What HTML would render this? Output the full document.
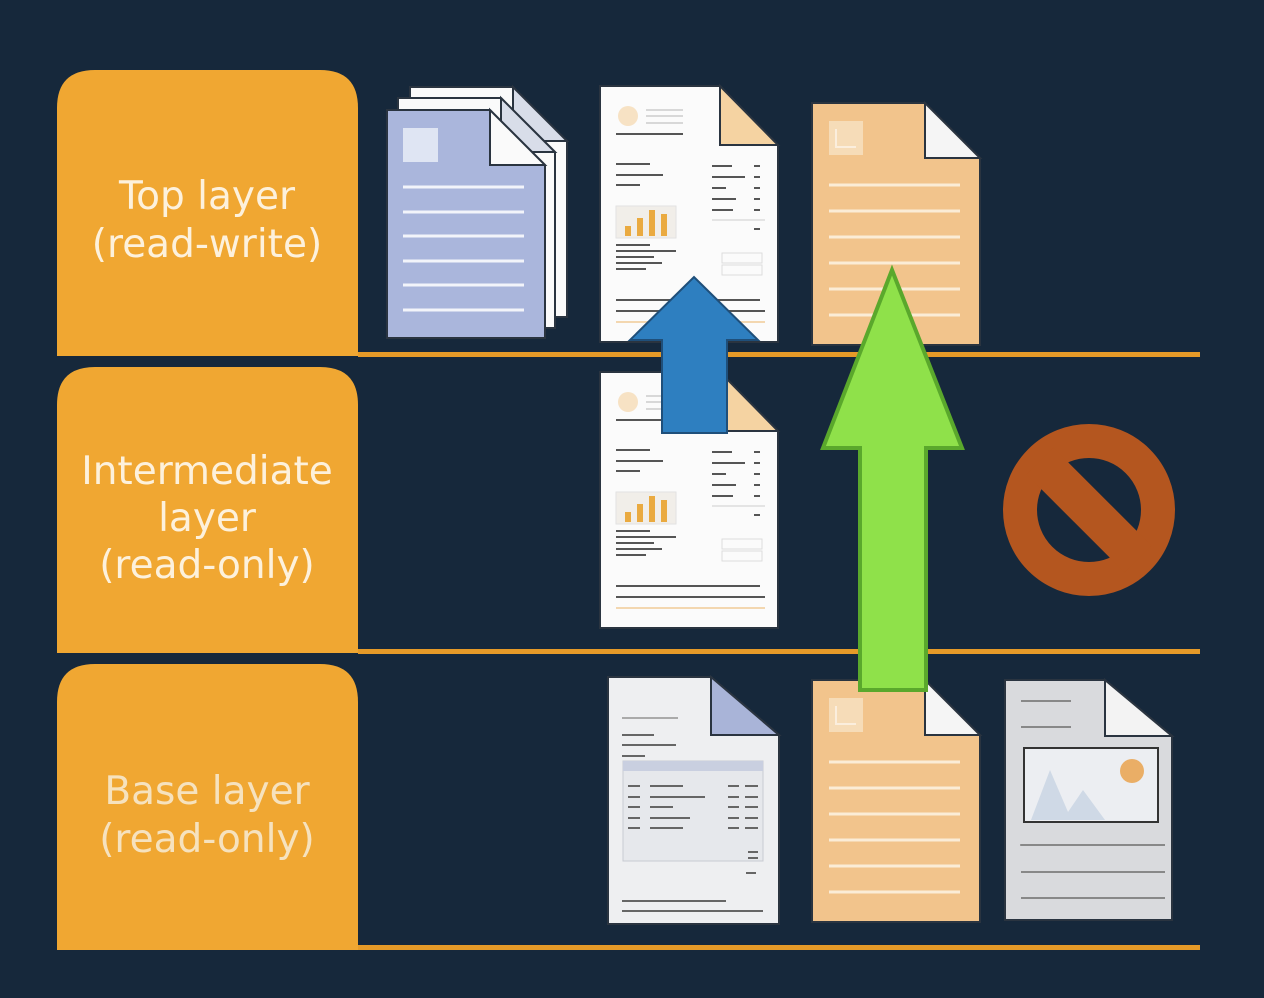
<!DOCTYPE html>
<html><head><meta charset="utf-8"><style>
html,body{margin:0;padding:0;background:#16283b;}
svg{display:block}
text{font-family:"DejaVu Sans","Liberation Sans",sans-serif;font-size:39px;fill:#fdf1dc;text-anchor:middle}
</style></head><body>
<svg width="1264" height="998" viewBox="0 0 1264 998" xmlns="http://www.w3.org/2000/svg">
<defs>
<g id="report">
  <path d="M0 0 H120 L178 59 V256 H0 Z" fill="#fbfbfb" stroke="#2a3440" stroke-width="2"/>
  <path d="M120 0 V59 H178 Z" fill="#f5d3a2" stroke="#2a3440" stroke-width="2"/>
  <circle cx="28" cy="30" r="10" fill="#f7e2c4"/>
  <g stroke="#d8d8d8" stroke-width="2"><line x1="46" y1="24" x2="83" y2="24"/><line x1="46" y1="30" x2="83" y2="30"/><line x1="46" y1="37" x2="83" y2="37"/></g>
  <g stroke="#555" stroke-width="2">
    <line x1="16" y1="48" x2="83" y2="48"/>
    <line x1="16" y1="78" x2="50" y2="78"/><line x1="16" y1="89" x2="63" y2="89"/><line x1="16" y1="99" x2="40" y2="99"/>
    <line x1="112" y1="80" x2="132" y2="80"/><line x1="112" y1="91" x2="145" y2="91"/><line x1="112" y1="102" x2="126" y2="102"/><line x1="112" y1="113" x2="136" y2="113"/><line x1="112" y1="124" x2="133" y2="124"/>
    <line x1="154" y1="80" x2="160" y2="80"/><line x1="154" y1="91" x2="160" y2="91"/><line x1="154" y1="102" x2="160" y2="102"/><line x1="154" y1="113" x2="160" y2="113"/><line x1="154" y1="124" x2="160" y2="124"/><line x1="154" y1="143" x2="160" y2="143"/>
    <line x1="16" y1="159" x2="50" y2="159"/><line x1="16" y1="165" x2="76" y2="165"/><line x1="16" y1="171" x2="54" y2="171"/><line x1="16" y1="177" x2="62" y2="177"/><line x1="16" y1="183" x2="46" y2="183"/>
    <line x1="16" y1="214" x2="160" y2="214"/><line x1="16" y1="225" x2="165" y2="225"/>
  </g>
  <line x1="16" y1="236" x2="165" y2="236" stroke="#f3d7b0" stroke-width="2"/>
  <line x1="112" y1="134" x2="165" y2="134" stroke="#ddd" stroke-width="1.5"/>
  <rect x="16" y="120" width="60" height="32" fill="#f1eee9" stroke="#e2e2e2"/>
  <g fill="#eaaa40"><rect x="25" y="140" width="6" height="10"/><rect x="37" y="132" width="6" height="18"/><rect x="49" y="124" width="6" height="26"/><rect x="61" y="128" width="6" height="22"/></g>
  <rect x="122" y="167" width="40" height="10" fill="none" stroke="#ddd"/><rect x="122" y="179" width="40" height="10" fill="none" stroke="#ddd"/>
</g>
<g id="orangedoc">
  <path d="M0 0 H113 L168 55 V242 H0 Z" fill="#f2c48c" stroke="#2a3440" stroke-width="2"/>
  <path d="M113 0 V55 H168 Z" fill="#f5f5f5" stroke="#2a3440" stroke-width="2"/>
  <rect x="17" y="18" width="34" height="34" fill="#f6dcb8"/>
  <path d="M24 26 V44 H44" stroke="#fbeedd" stroke-width="2" fill="none"/>
  <g stroke="#fbecd6" stroke-width="3"><line x1="17" y1="82" x2="148" y2="82"/><line x1="17" y1="108" x2="148" y2="108"/><line x1="17" y1="134" x2="148" y2="134"/><line x1="17" y1="160" x2="148" y2="160"/><line x1="17" y1="186" x2="148" y2="186"/><line x1="17" y1="212" x2="148" y2="212"/></g>
</g>
</defs>

<!-- tabs -->
<g fill="#f0a732">
  <path d="M57 356 V108 Q57 70 95 70 H320 Q358 70 358 108 V356 Z"/>
  <path d="M57 653 V405 Q57 367 95 367 H320 Q358 367 358 405 V653 Z"/>
  <path d="M57 950 V702 Q57 664 95 664 H320 Q358 664 358 702 V950 Z"/>
</g>
<g fill="#e59a28">
  <rect x="358" y="352" width="842" height="5"/>
  <rect x="358" y="649" width="842" height="5"/>
  <rect x="358" y="945" width="842" height="5"/>
</g>
<text x="207" y="209">Top layer</text>
<text x="207" y="257">(read-write)</text>
<text x="207" y="484">Intermediate</text>
<text x="207" y="531">layer</text>
<text x="207" y="578">(read-only)</text>
<text x="207" y="804" style="fill:#f6e2be">Base layer</text>
<text x="207" y="852" style="fill:#f6e2be">(read-only)</text>

<!-- blue stack -->
<g stroke="#2a3440" stroke-width="2">
  <path d="M410 87 H513 L567 141 V317 H410 Z" fill="#fafafa"/>
  <path d="M513 87 V141 H567 Z" fill="#d8dde9"/>
  <path d="M398 98 H501 L555 152 V328 H398 Z" fill="#fafafa"/>
  <path d="M501 98 V152 H555 Z" fill="#d8dde9"/>
  <path d="M387 110 H490 L545 165 V338 H387 Z" fill="#aab6dc"/>
  <path d="M490 110 V165 H545 Z" fill="#fafafa"/>
</g>
<rect x="403" y="128" width="35" height="34" fill="#dfe5f3"/>
<g stroke="#f2f4fa" stroke-width="3"><line x1="403" y1="187" x2="524" y2="187"/><line x1="403" y1="212" x2="524" y2="212"/><line x1="403" y1="236" x2="524" y2="236"/><line x1="403" y1="261" x2="524" y2="261"/><line x1="403" y1="285" x2="524" y2="285"/><line x1="403" y1="310" x2="524" y2="310"/></g>

<use href="#report" x="600" y="86"/>
<use href="#orangedoc" x="812" y="103"/>
<use href="#report" x="600" y="372"/>

<!-- base left doc -->
<g transform="translate(608,677)">
  <path d="M0 0 H103 L171 58 V247 H0 Z" fill="#eeeff1" stroke="#2a3440" stroke-width="2"/>
  <path d="M103 0 V58 H171 Z" fill="#a9b4d8" stroke="#2a3440" stroke-width="2"/>
  <g stroke="#666" stroke-width="2"><line x1="14" y1="41" x2="70" y2="41" stroke="#aaa"/><line x1="14" y1="58" x2="46" y2="58"/><line x1="14" y1="68" x2="68" y2="68"/><line x1="14" y1="79" x2="37" y2="79"/>
  <line x1="14" y1="224" x2="118" y2="224"/><line x1="14" y1="234" x2="155" y2="234"/></g>
  <rect x="15" y="84" width="140" height="100" fill="#e6e8ec" stroke="#c8cbd2"/>
  <rect x="15" y="84" width="140" height="10" fill="#c9cfe0"/>
  <g stroke="#666" stroke-width="2"><line x1="20" y1="109" x2="32" y2="109"/><line x1="20" y1="120" x2="32" y2="120"/><line x1="20" y1="130" x2="32" y2="130"/><line x1="20" y1="141" x2="32" y2="141"/><line x1="20" y1="151" x2="32" y2="151"/>
  <line x1="42" y1="109" x2="75" y2="109"/><line x1="42" y1="120" x2="97" y2="120"/><line x1="42" y1="130" x2="65" y2="130"/><line x1="42" y1="141" x2="82" y2="141"/><line x1="42" y1="151" x2="75" y2="151"/>
  <line x1="120" y1="109" x2="131" y2="109"/><line x1="120" y1="120" x2="131" y2="120"/><line x1="120" y1="130" x2="131" y2="130"/><line x1="120" y1="141" x2="131" y2="141"/><line x1="120" y1="151" x2="131" y2="151"/>
  <line x1="137" y1="109" x2="150" y2="109"/><line x1="137" y1="120" x2="150" y2="120"/><line x1="137" y1="130" x2="150" y2="130"/><line x1="137" y1="141" x2="150" y2="141"/><line x1="137" y1="151" x2="150" y2="151"/>
  <line x1="140" y1="175" x2="150" y2="175"/><line x1="140" y1="181" x2="150" y2="181"/><line x1="138" y1="196" x2="148" y2="196"/></g>
</g>
<use href="#orangedoc" x="812" y="680"/>
<!-- base gray doc -->
<g transform="translate(1005,680)">
  <path d="M0 0 H100 L167 56 V240 H0 Z" fill="#d9dadd" stroke="#2a3440" stroke-width="2"/>
  <path d="M100 0 V56 H167 Z" fill="#f3f3f3" stroke="#2a3440" stroke-width="2"/>
  <g stroke="#888" stroke-width="2"><line x1="16" y1="21" x2="66" y2="21"/><line x1="16" y1="47" x2="66" y2="47"/><line x1="16" y1="165" x2="168" y2="165" transform="scale(.95 1)"/><line x1="16" y1="192" x2="160" y2="192"/><line x1="16" y1="218" x2="160" y2="218"/><line x1="16" y1="165" x2="160" y2="165"/></g>
  <rect x="19" y="68" width="134" height="74" fill="#eceef2" stroke="#333" stroke-width="2"/>
  <path d="M26 140 L45 90 L63 132 L78 110 L100 140 Z" fill="#cfd9e6"/>
  <circle cx="127" cy="91" r="12" fill="#eaae66"/>
</g>

<!-- blue arrow -->
<path d="M662 433 V340 H630 L694 277 L758 340 H727 V433 Z" fill="#2e7fc0" stroke="#1f4f7a" stroke-width="2"/>
<!-- green arrow -->
<path d="M860 690 V448 H823 L892 270 L962 448 H926 V690 Z" fill="#8fe14a" stroke="#5aa82c" stroke-width="4"/>

<!-- no sign -->
<circle cx="1089" cy="510" r="69" fill="none" stroke="#b4561f" stroke-width="34"/>
<line x1="1040" y1="461" x2="1138" y2="559" stroke="#b4561f" stroke-width="38"/>
</svg>
</body></html>
